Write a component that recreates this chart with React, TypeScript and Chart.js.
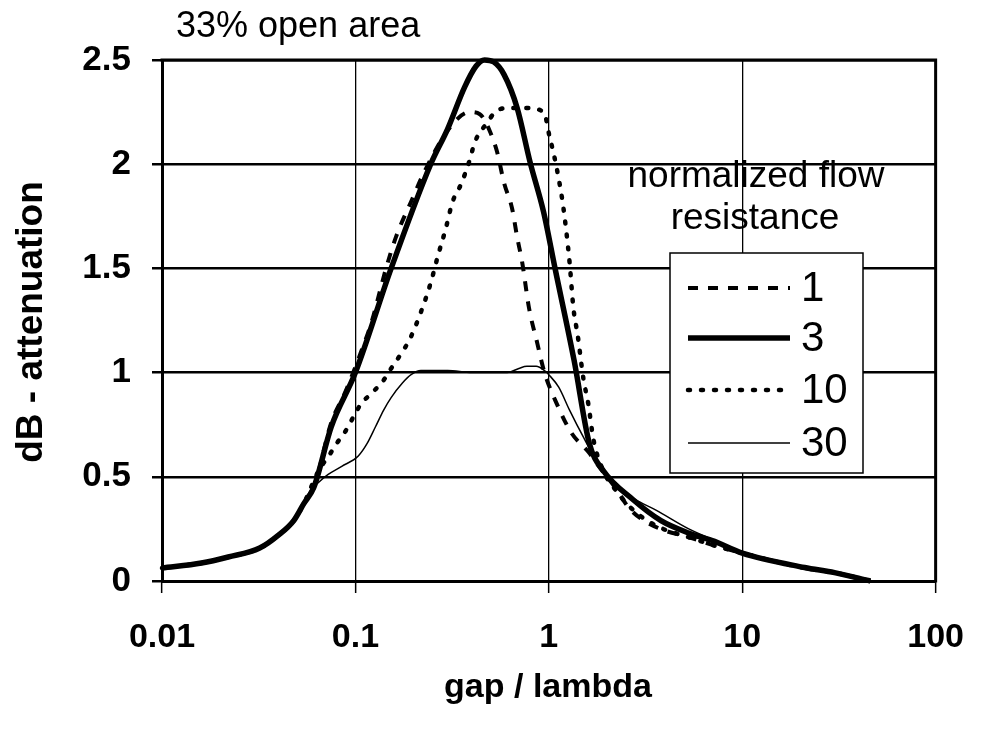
import React, { useEffect, useRef } from "react";
import Chart from "chart.js/auto";

// ---- data ----
const seriesNames = ["1", "3", "10", "30"];

const s1X = [0.01, 0.016, 0.022, 0.032, 0.04, 0.048, 0.054, 0.061, 0.075, 0.089, 0.107, 0.121, 0.144, 0.162, 0.194, 0.229, 0.31, 0.39, 0.44, 0.5, 0.54, 0.587, 0.645, 0.686, 0.728, 0.79, 0.867, 0.95, 1.1, 1.31, 1.6, 1.85, 2.2, 2.6, 3.1, 3.9, 5.3, 7.2, 10, 21, 30, 46];
const s1Y = [0.062, 0.086, 0.115, 0.158, 0.22, 0.29, 0.37, 0.45, 0.76, 0.91, 1.1, 1.24, 1.5, 1.65, 1.82, 1.97, 2.18, 2.25, 2.24, 2.15, 2.06, 1.91, 1.79, 1.65, 1.53, 1.31, 1.15, 1.0, 0.85, 0.71, 0.62, 0.54, 0.45, 0.35, 0.29, 0.245, 0.21, 0.17, 0.134, 0.062, 0.04, 0.0];

const s3X = [0.01, 0.016, 0.022, 0.032, 0.04, 0.048, 0.054, 0.061, 0.075, 0.1, 0.153, 0.245, 0.3, 0.367, 0.42, 0.465, 0.52, 0.587, 0.686, 0.8, 0.94, 1.077, 1.35, 1.62, 1.91, 2.73, 3.8, 5.3, 7.2, 10, 21, 30, 46];
const s3Y = [0.062, 0.086, 0.115, 0.158, 0.22, 0.29, 0.37, 0.45, 0.74, 1.0, 1.5, 2.0, 2.17, 2.37, 2.47, 2.5, 2.49, 2.43, 2.27, 2.01, 1.77, 1.5, 1.06, 0.66, 0.53, 0.39, 0.29, 0.23, 0.19, 0.134, 0.065, 0.04, 0.0];

const s10X = [0.01, 0.016, 0.022, 0.032, 0.04, 0.048, 0.054, 0.0646, 0.0728, 0.08, 0.089, 0.098, 0.107, 0.121, 0.139, 0.153, 0.172, 0.191, 0.218, 0.245, 0.267, 0.293, 0.318, 0.35, 0.393, 0.412, 0.481, 0.528, 0.61, 0.753, 0.942, 1.01, 1.06, 1.125, 1.19, 1.28, 1.34, 1.41, 1.51, 1.6, 1.7, 1.91, 2.2, 2.6, 3.1, 3.9, 5.3, 7.2, 10, 21, 30, 46];
const s10Y = [0.062, 0.086, 0.115, 0.158, 0.22, 0.29, 0.37, 0.53, 0.6, 0.66, 0.72, 0.79, 0.85, 0.9, 0.96, 1.02, 1.09, 1.16, 1.29, 1.43, 1.56, 1.69, 1.82, 1.9, 2.03, 2.1, 2.2, 2.25, 2.27, 2.27, 2.25, 2.13, 2.05, 1.93, 1.79, 1.53, 1.31, 1.18, 0.97, 0.85, 0.68, 0.53, 0.44, 0.36, 0.3, 0.25, 0.21, 0.17, 0.134, 0.062, 0.04, 0.0];

const s30X = [0.01, 0.016, 0.022, 0.032, 0.04, 0.048, 0.054, 0.058, 0.064, 0.072, 0.085, 0.1035, 0.115, 0.127, 0.14, 0.153, 0.175, 0.194, 0.218, 0.3, 0.4, 0.5, 0.61, 0.7, 0.77, 0.86, 0.95, 1.0, 1.125, 1.28, 1.51, 1.76, 1.98, 2.23, 2.8, 3.58, 5.29, 7.2, 10, 21, 30, 46];
const s30Y = [0.062, 0.086, 0.115, 0.158, 0.22, 0.29, 0.37, 0.43, 0.47, 0.51, 0.55, 0.6, 0.66, 0.74, 0.82, 0.88, 0.95, 0.99, 1.01, 1.01, 1.0, 1.0, 1.0, 1.02, 1.03, 1.03, 1.01, 0.99, 0.93, 0.82, 0.69, 0.58, 0.52, 0.45, 0.39, 0.34, 0.25, 0.195, 0.14, 0.067, 0.045, 0.0];

const xTickValues = [0.01, 0.1, 1, 10, 100];
const xTickLabels = ["0.01", "0.1", "1", "10", "100"];
const yTickValues = [0, 0.5, 1, 1.5, 2, 2.5];
const yTickLabels = ["0", "0.5", "1", "1.5", "2", "2.5"];

const titleText = "33% open area";
const xTitle = "gap / lambda";
const yTitle = "dB - attenuation";
const legendTitle = ["normalized flow", "resistance"];

const FONT = "'Liberation Sans', Arial, sans-serif";

function pts(xs: number[], ys: number[]) {
  return xs.map((x, i) => ({ x, y: ys[i] }));
}

const decoPlugin = {
  id: "deco",
  afterDraw(chart: any) {
    const ctx = chart.ctx as CanvasRenderingContext2D;
    const a = chart.chartArea;
    ctx.save();
    // top & right frame
    ctx.strokeStyle = "#000";
    ctx.lineWidth = 3;
    ctx.beginPath();
    ctx.moveTo(a.left - 1.5, a.top);
    ctx.lineTo(a.right, a.top);
    ctx.lineTo(a.right, a.bottom + 1.5);
    ctx.stroke();

    ctx.fillStyle = "#000";
    // chart title
    ctx.font = `36px ${FONT}`;
    ctx.textAlign = "left";
    ctx.textBaseline = "middle";
    ctx.fillText(titleText, 176, 27);

    // x title
    ctx.font = `bold 34px ${FONT}`;
    ctx.textAlign = "center";
    ctx.fillText(xTitle, 548, 688);

    // y title
    ctx.save();
    ctx.translate(32, 322);
    ctx.rotate(-Math.PI / 2);
    ctx.font = `bold 37px ${FONT}`;
    ctx.fillText(yTitle, 0, 0);
    ctx.restore();

    // legend header
    ctx.font = `37px ${FONT}`;
    ctx.textAlign = "center";
    ctx.fillText(legendTitle[0], 756, 177);
    ctx.fillText(legendTitle[1], 755, 219);

    // legend box
    const bx = 670, by = 253, bw = 193, bh = 220;
    ctx.fillStyle = "#fff";
    ctx.fillRect(bx, by, bw, bh);
    ctx.strokeStyle = "#000";
    ctx.lineWidth = 1.5;
    ctx.strokeRect(bx, by, bw, bh);
    const rowY = [288, 338, 390, 443];
    chart.data.datasets.forEach((ds: any, i: number) => {
      const y = rowY[i];
      ctx.save();
      ctx.strokeStyle = "#000";
      ctx.lineWidth = ds.borderWidth;
      ctx.lineCap = ds.borderCapStyle || "butt";
      ctx.setLineDash(ds.borderDash || []);
      ctx.beginPath();
      ctx.moveTo(688, y);
      ctx.lineTo(790, y);
      ctx.stroke();
      ctx.restore();
      ctx.fillStyle = "#000";
      ctx.font = `42px ${FONT}`;
      ctx.textAlign = "left";
      ctx.textBaseline = "middle";
      ctx.fillText(ds.label, 801, y + 1);
    });
    ctx.restore();
  },
};

export default function App() {
  const ref = useRef<HTMLCanvasElement | null>(null);
  useEffect(() => {
    document.body.style.margin = "0";
    const canvas = ref.current!;
    const chart = new Chart(canvas, {
      type: "line",
      data: {
        datasets: [
          {
            label: seriesNames[0],
            data: pts(s1X, s1Y),
            borderColor: "#000",
            borderWidth: 4,
            borderDash: [10, 10],
            pointRadius: 0,
            cubicInterpolationMode: "monotone",
            clip: 6,
          },
          {
            label: seriesNames[1],
            data: pts(s3X, s3Y),
            borderColor: "#000",
            borderWidth: 5.5,
            pointRadius: 0,
            cubicInterpolationMode: "monotone",
            clip: 6,
          },
          {
            label: seriesNames[2],
            data: pts(s10X, s10Y),
            borderColor: "#000",
            borderWidth: 4.5,
            borderDash: [2, 11],
            borderCapStyle: "round",
            pointRadius: 0,
            cubicInterpolationMode: "monotone",
            clip: 6,
          },
          {
            label: seriesNames[3],
            data: pts(s30X, s30Y),
            borderColor: "#000",
            borderWidth: 1.5,
            pointRadius: 0,
            cubicInterpolationMode: "monotone",
            clip: 6,
          },
        ],
      } as any,
      options: {
        animation: false,
        responsive: false,
        layout: { padding: { left: 0, top: 60, right: 47, bottom: 0 } },
        plugins: { legend: { display: false }, tooltip: { enabled: false }, title: { display: false } },
        scales: {
          x: {
            type: "logarithmic",
            min: 0.01,
            max: 100,
            afterBuildTicks: (s: any) => {
              s.ticks = xTickValues.map((v) => ({ value: v }));
            },
            afterFit: (s: any) => {
              s.height = 150;
            },
            ticks: {
              autoSkip: false,
              maxRotation: 0,
              padding: 24,
              color: "#000",
              font: { family: FONT, size: 34, weight: "bold" },
              callback: (v: any) => {
                const i = xTickValues.findIndex((t) => Math.abs(t - Number(v)) < 1e-9 * Math.max(1, t));
                return i >= 0 ? xTickLabels[i] : "";
              },
            },
            grid: { color: "#000", lineWidth: 1.3, tickLength: 12, tickColor: "#000", tickWidth: 1.5 },
            border: { color: "#000", width: 3 },
          },
          y: {
            type: "linear",
            min: 0,
            max: 2.5,
            afterBuildTicks: (s: any) => {
              s.ticks = yTickValues.map((v) => ({ value: v }));
            },
            afterFit: (s: any) => {
              s.width = 162;
            },
            ticks: {
              padding: 21,
              color: "#000",
              font: { family: FONT, size: 35, weight: "bold" },
              callback: (v: any) => {
                const i = yTickValues.findIndex((t) => Math.abs(t - Number(v)) < 1e-9);
                return i >= 0 ? yTickLabels[i] : "";
              },
            },
            grid: { color: "#000", lineWidth: 2.5, tickLength: 10, tickColor: "#000", tickWidth: 2.5 },
            border: { color: "#000", width: 3 },
          },
        },
      } as any,
      plugins: [decoPlugin],
    });
    return () => chart.destroy();
  }, []);
  return (
    <div style={{ position: "fixed", left: 0, top: 0, width: 988, height: 731, background: "#fff" }}>
      <canvas ref={ref} width={988} height={731} style={{ width: 988, height: 731 }} />
    </div>
  );
}
